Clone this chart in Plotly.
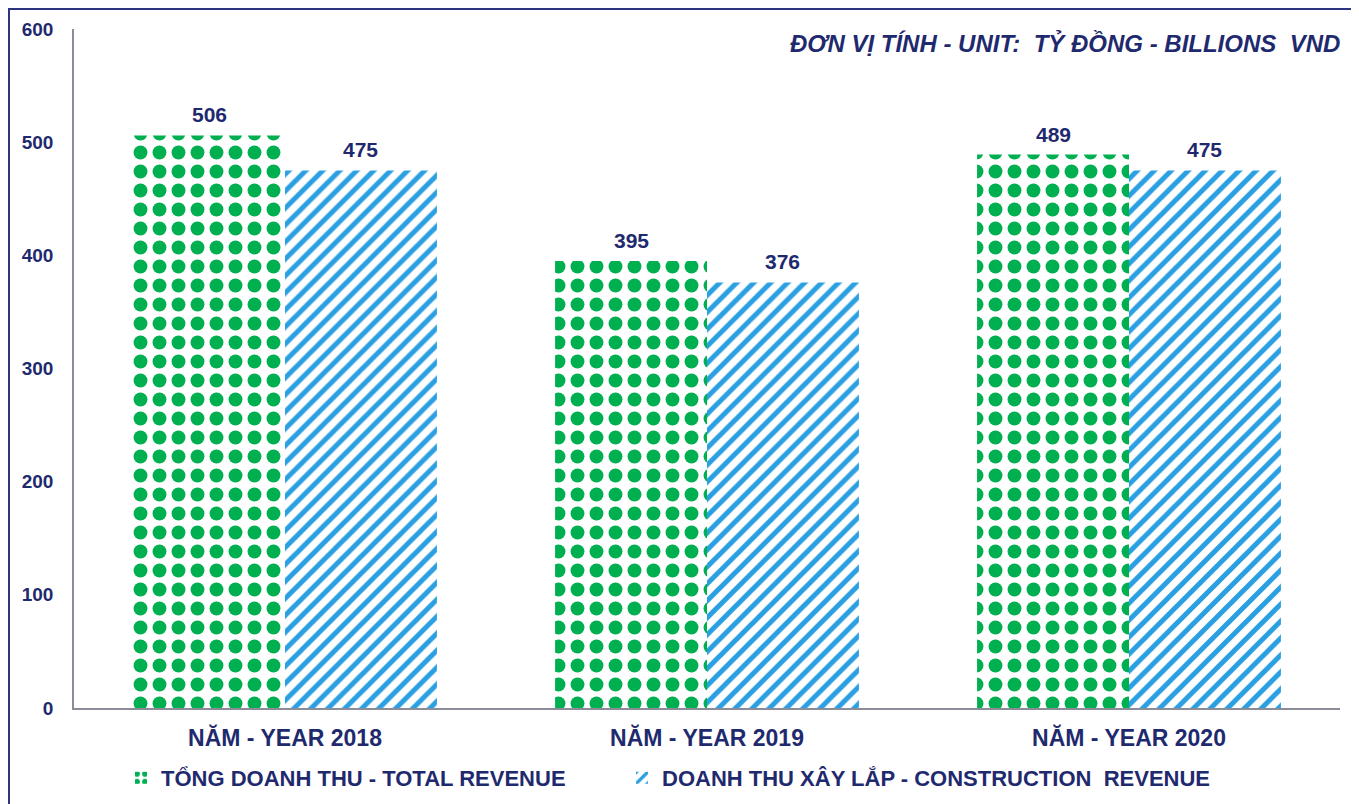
import plotly.graph_objects as go

categories = ["NĂM - YEAR 2018", "NĂM - YEAR 2019", "NĂM - YEAR 2020"]
total_revenue = [506, 395, 489]
construction_revenue = [475, 376, 475]
series_names = ["TỔNG DOANH THU - TOTAL REVENUE", "DOANH THU XÂY LẮP - CONSTRUCTION  REVENUE"]
y_ticks = [0, 100, 200, 300, 400, 500, 600]

navy = "#1F2A6E"
green = "#00B050"
blue = "#2A9FE2"
font_family = "Liberation Sans, Arial, sans-serif"
bargap = 0.28

# The page body has an 8px margin; layout targets below are in page pixels.
PAGE_OFF = 8
W, H = 1359 - PAGE_OFF, 804 - PAGE_OFF
plot_left, plot_right, plot_top, plot_bottom = 74, 1340, 29, 708
L = plot_left - PAGE_OFF
R = W - (plot_right - PAGE_OFF)
T = plot_top - PAGE_OFF
B = H - (plot_bottom - PAGE_OFF)
pw, ph = W - L - R, H - T - B

def px_x(x):
    return (x - PAGE_OFF - L) / pw

def px_y(y):
    return (H - B - (y - PAGE_OFF)) / ph

fig = go.Figure()
fig.add_trace(go.Bar(
    x=categories, y=total_revenue, name=series_names[0], legend="legend",
    marker=dict(color="white", line=dict(width=0),
                pattern=dict(shape=".", fgcolor=green, bgcolor="white", size=19, solidity=0.42, fillmode="replace")),
))
fig.add_trace(go.Bar(
    x=categories, y=construction_revenue, name=series_names[1], legend="legend2",
    marker=dict(color="white", line=dict(width=0),
                pattern=dict(shape="/", fgcolor=blue, bgcolor="white", size=12, solidity=0.42, fillmode="replace")),
))

# value labels above each bar (positions derived from category index and bar offset)
offset = (1 - bargap) / 4
annotations = []
for series_idx, values in enumerate([total_revenue, construction_revenue]):
    shift = -offset if series_idx == 0 else offset
    for i, v in enumerate(values):
        annotations.append(dict(x=i + shift, y=v, xref="x", yref="y", text=f"<b>{v}</b>",
                                showarrow=False, yanchor="bottom", xanchor="center", yshift=7,
                                font=dict(size=21, color=navy, family=font_family)))

annotations.append(dict(text="<b><i>ĐƠN VỊ TÍNH - UNIT:  TỶ ĐỒNG - BILLIONS  VND</i></b>",
                        xref="paper", yref="paper", x=px_x(1342), y=px_y(43),
                        xanchor="right", yanchor="middle", showarrow=False,
                        font=dict(size=24, color=navy, family=font_family)))

legend_font = dict(size=22, color=navy, family=font_family, weight="bold")

fig.update_layout(
    width=W, height=H,
    margin=dict(l=L, r=R, t=T, b=B, autoexpand=False),
    paper_bgcolor="white", plot_bgcolor="white",
    barmode="group", bargap=bargap, bargroupgap=0,
    font=dict(family=font_family, color=navy),
    showlegend=True,
    legend=dict(orientation="h", x=px_x(121), xanchor="left", y=px_y(778), yanchor="middle",
                font=legend_font, itemwidth=30, bgcolor="rgba(0,0,0,0)"),
    legend2=dict(orientation="h", x=px_x(622), xanchor="left", y=px_y(778), yanchor="middle",
                 font=legend_font, itemwidth=30, bgcolor="rgba(0,0,0,0)"),
    xaxis=dict(showline=True, linecolor="#8C8C99", linewidth=1.5, showgrid=False,
               ticks="", tickfont=dict(size=23, color=navy, family=font_family, weight="bold"),
               ticklabelstandoff=9),
    yaxis=dict(range=[0, 600], tickvals=y_ticks, showline=True, linecolor="#8C8C99", linewidth=1.5,
               showgrid=False, zeroline=False, ticks="",
               tickfont=dict(size=19, color=navy, family=font_family, weight="bold"),
               ticklabelstandoff=15),
    shapes=[dict(type="rect", xref="paper", yref="paper",
                 x0=px_x(9), x1=px_x(1352), y0=px_y(806), y1=px_y(9),
                 line=dict(color="#2B3580", width=2), fillcolor="rgba(0,0,0,0)", layer="below")],
    annotations=annotations,
)

fig.write_html("out.html")
